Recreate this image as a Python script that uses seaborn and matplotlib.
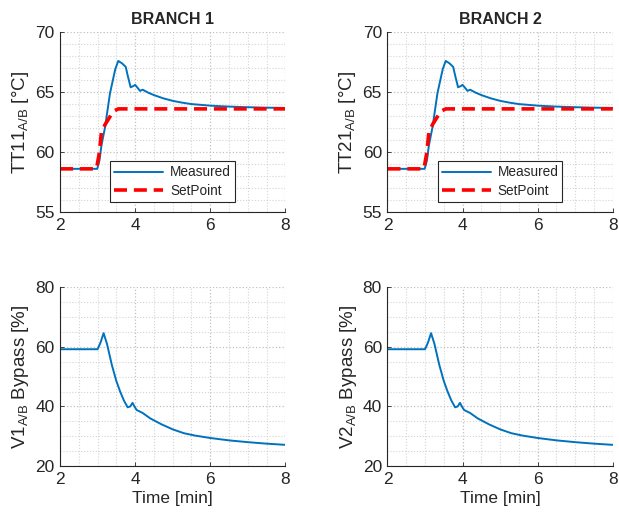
import numpy as np
import pandas as pd
import matplotlib
matplotlib.use('Agg')
import matplotlib.pyplot as plt
from matplotlib.ticker import MultipleLocator
import seaborn as sns

# values (same traces in both branches)
t_meas = [2.0, 2.99, 3.05, 3.1, 3.2, 3.33, 3.47, 3.55, 3.65, 3.75, 3.8, 3.88, 3.95, 4.0,
          4.08, 4.13, 4.2, 4.35, 4.5, 4.75, 5.0, 5.25, 5.5, 6.0, 6.5, 7.0, 7.5, 8.0]
temp_meas = [58.6, 58.6, 59.3, 60.5, 62.1, 64.9, 66.9, 67.6, 67.4, 67.1, 66.4, 65.4, 65.5, 65.6,
             65.3, 65.1, 65.2, 64.95, 64.75, 64.48, 64.27, 64.12, 64.0, 63.87, 63.79, 63.74, 63.7, 63.68]

t_sp = [2.0, 2.97, 3.05, 3.1, 3.2, 3.3, 3.42, 3.55, 8.0]
temp_sp = [58.6, 58.6, 60.0, 61.6, 62.3, 62.8, 63.4, 63.6, 63.6]

t_valve = [2.0, 3.0, 3.08, 3.16, 3.25, 3.38, 3.5, 3.6, 3.7, 3.8, 3.87, 3.93, 3.98, 4.04,
           4.2, 4.4, 4.7, 5.0, 5.3, 5.6, 6.0, 6.5, 7.0, 7.5, 8.0]
valve = [59.2, 59.2, 61.5, 64.6, 61.0, 53.9, 48.5, 45.0, 42.0, 39.7, 40.0, 41.2, 40.0, 38.8,
         37.8, 36.0, 34.0, 32.3, 31.0, 30.2, 29.4, 28.6, 28.0, 27.5, 27.1]

branches = ['BRANCH 1', 'BRANCH 2']
temp_labels = ['TT11$\\mathregular{_{A/B}}$ [°C]', 'TT21$\\mathregular{_{A/B}}$ [°C]']
valve_labels = ['V1$\\mathregular{_{A/B}}$ Bypass [%]', 'V2$\\mathregular{_{A/B}}$ Bypass [%]']

sns.set_style('white')
plt.rcParams['font.family'] = ['Liberation Sans', 'DejaVu Sans']
plt.rcParams['mathtext.fontset'] = 'custom'
plt.rcParams['mathtext.rm'] = 'Liberation Sans'

blue = '#0072BD'
red = '#FF0000'

fig = plt.figure(figsize=(6.19, 5.14), dpi=100)
lefts = [0.097, 0.626]
width = 0.364


def style_axis(ax, ymin, ymax, ymaj, ymin_step):
    ax.set_xlim(2, 8)
    ax.set_ylim(ymin, ymax)
    ax.xaxis.set_major_locator(MultipleLocator(2))
    ax.xaxis.set_minor_locator(MultipleLocator(0.5))
    ax.yaxis.set_major_locator(MultipleLocator(ymaj))
    ax.yaxis.set_minor_locator(MultipleLocator(ymin_step))
    ax.grid(which='major', linestyle=':', color='#c0c0c0', linewidth=0.9)
    ax.grid(which='minor', linestyle=':', color='#d4d4d4', linewidth=0.8)
    ax.set_axisbelow(True)
    for s in ['top', 'right']:
        ax.spines[s].set_visible(False)
    for s in ['left', 'bottom']:
        ax.spines[s].set_color('#262626')
        ax.spines[s].set_linewidth(0.8)
    ax.tick_params(which='major', direction='in', length=3, width=0.6,
                   labelsize=12.5, colors='#262626', pad=4, left=True, bottom=True)
    ax.tick_params(which='minor', length=0)


meas_df = pd.DataFrame({'time': t_meas, 'value': temp_meas})
sp_df = pd.DataFrame({'time': t_sp, 'value': temp_sp})
valve_df = pd.DataFrame({'time': t_valve, 'value': valve})

for i in range(2):
    ax = fig.add_axes([lefts[i], 0.5875, width, 0.350])
    sns.lineplot(data=meas_df, x='time', y='value', ax=ax, color=blue,
                 linewidth=1.4, label='Measured')
    sns.lineplot(data=sp_df, x='time', y='value', ax=ax, color=red,
                 linewidth=2.6, label='SetPoint', dashes=False)
    ax.lines[-1].set_dashes((3.6, 1.9))
    style_axis(ax, 55, 70, 5, 1)
    ax.set_title(branches[i], fontsize=11.5, fontweight='bold', pad=6)
    ax.set_xlabel('')
    ax.set_ylabel(temp_labels[i], fontsize=13.5, color='#262626', labelpad=3)
    leg = ax.legend(loc='lower left', bbox_to_anchor=(0.222, 0.055), fontsize=9.8,
                    fancybox=False, framealpha=1, edgecolor='#262626',
                    handlelength=3.6, borderpad=0.3, labelspacing=0.35,
                    handletextpad=0.5, borderaxespad=0)
    leg.get_frame().set_linewidth(0.8)
    leg.get_lines()[1].set_dashes((3.6, 1.9))

    ax2 = fig.add_axes([lefts[i], 0.0934, width, 0.3477])
    sns.lineplot(data=valve_df, x='time', y='value', ax=ax2, color=blue, linewidth=1.4)
    style_axis(ax2, 20, 80, 20, 5)
    ax2.set_xlabel('Time [min]', fontsize=12.5, color='#262626', labelpad=3)
    ax2.set_ylabel(valve_labels[i], fontsize=13.5, color='#262626', labelpad=3)

fig.savefig('out.png', dpi=100)
